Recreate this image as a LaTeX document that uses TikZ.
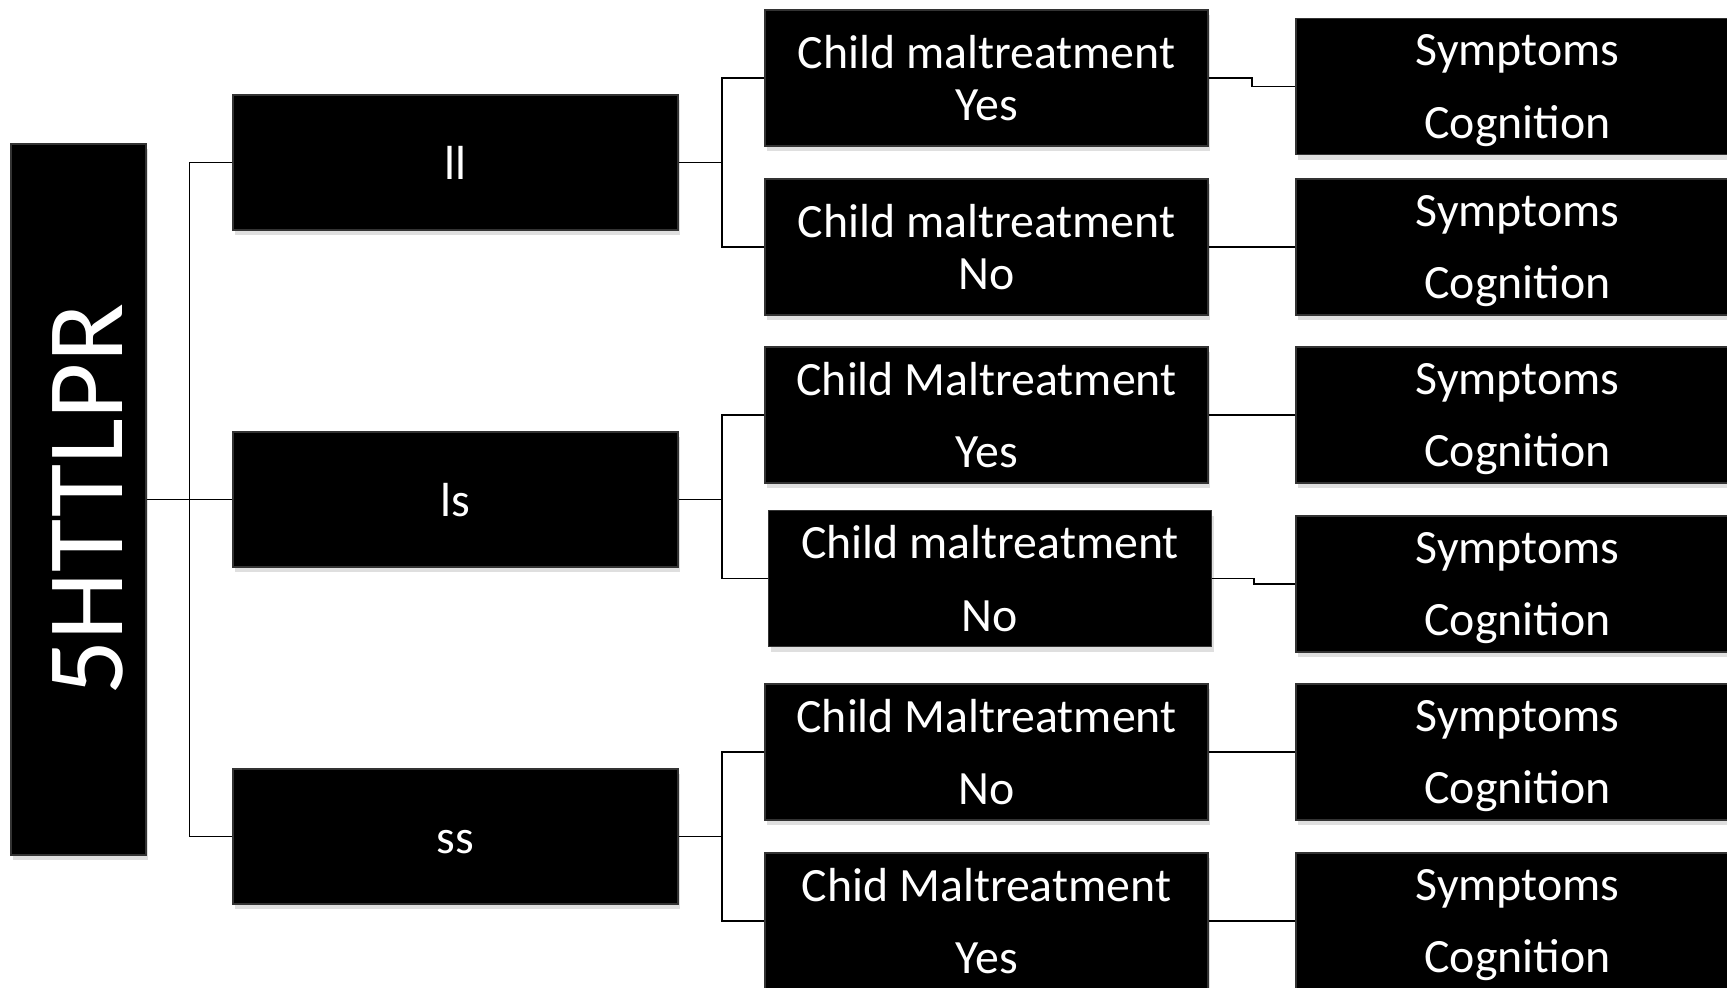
\documentclass[tikz,border=0pt]{standalone}
\usepackage{fontspec}
\setmainfont{Carlito}
\usepackage{graphicx}
\usepackage{tikz}
\usetikzlibrary{positioning,calc,shadows}
\tikzset{
  rootbox/.style ={draw=black!80, fill=black, text=white, minimum width=1.35cm, minimum height=7.11cm, inner sep=0pt, drop shadow={shadow xshift=0.2mm, shadow yshift=-0.5mm, opacity=0.25}, font=\fontsize{31}{36}\selectfont},
  gtbox/.style   ={draw=black!80, fill=black, text=white, minimum width=4.45cm, minimum height=1.35cm, inner sep=0pt, text height=9.5pt, text depth=0pt, drop shadow={shadow xshift=0.2mm, shadow yshift=-0.5mm, opacity=0.25}},
  cmbox/.style   ={draw=black!80, fill=black, text=white, align=center, minimum width=4.43cm, minimum height=1.36cm, inner sep=0pt, drop shadow={shadow xshift=0.2mm, shadow yshift=-0.5mm, opacity=0.25}},
  widelines/.style={font=\fontsize{13.6}{20.6}\selectfont},
  outbox/.style  ={cmbox, widelines, text depth=-1.5pt},
  link/.style    ={draw, line width=0.5pt},
}

\begin{document}
\begin{tikzpicture}[font=\fontsize{13.6}{14.7}\selectfont]
  \useasboundingbox (0,0) rectangle (17.27,-9.87);

  % genotype
  \node[rootbox] (root) at (0.785,-4.995) {\hspace*{0.18cm}\rotatebox{90}{5HTTLPR}};
  \node[gtbox] (ll) at (4.555,-1.625) {ll};
  \node[gtbox] (ls) at (4.555,-4.995) {ls};
  \node[gtbox] (ss) at (4.555,-8.365) {ss};

  % maltreatment
  \node[cmbox] (cmA) at (9.865,-0.78) {Child maltreatment\\Yes};
  \node[cmbox] (cmB) at (9.865,-2.47) {Child maltreatment\\No};
  \node[cmbox, widelines] (cmC) at (9.865,-4.15) {Child Maltreatment\\Yes};
  \node[cmbox, widelines] (cmD) at (9.90,-5.785) {Child maltreatment\\No};
  \node[cmbox, widelines] (cmE) at (9.865,-7.52) {Child Maltreatment\\No};
  \node[cmbox, widelines] (cmF) at (9.865,-9.21) {Chid Maltreatment\\Yes};

  % outcomes
  \node[outbox] (scA) at (15.175,-0.865) {Symptoms\\Cognition};
  \node[outbox] (scB) at (15.175,-2.47) {Symptoms\\Cognition};
  \node[outbox] (scC) at (15.175,-4.15) {Symptoms\\Cognition};
  \node[outbox] (scD) at (15.175,-5.84) {Symptoms\\Cognition};
  \node[outbox] (scE) at (15.175,-7.52) {Symptoms\\Cognition};
  \node[outbox] (scF) at (15.175,-9.21) {Symptoms\\Cognition};

  % links
  \draw[link] (root.east) -- (ls.west);
  \coordinate (gfork) at ($(root.east)!0.5!(ls.west)$);
  \draw[link] (ll.west) -| (gfork) |- (ss.west);

  \draw[link] (ll.east) -- ++(0.435,0) coordinate (llfork) |- (cmA.west);
  \draw[link] (llfork) |- (cmB.west);
  \draw[link] (ls.east) -- ++(0.435,0) coordinate (lsfork) |- (cmC.west);
  \draw[link] (lsfork) |- (cmD.west);
  \draw[link] (ss.east) -- ++(0.435,0) coordinate (ssfork) |- (cmE.west);
  \draw[link] (ssfork) |- (cmF.west);

  \foreach \a/\b in {cmA/scA, cmB/scB, cmC/scC, cmD/scD, cmE/scE, cmF/scF}
    \draw[link] (\a.east) -| ($(\a.east)!0.5!(\b.west)$) |- (\b.west);
\end{tikzpicture}
\end{document}
